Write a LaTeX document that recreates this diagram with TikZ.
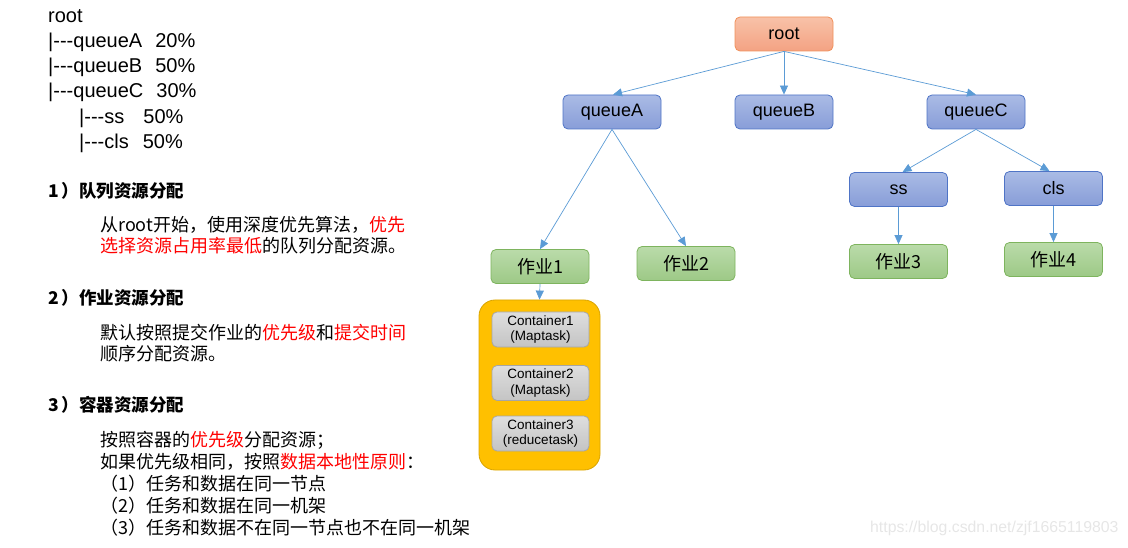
\documentclass[tikz,border=0pt]{standalone}
\usepackage{fontspec}
\setmainfont{Liberation Sans}
\newfontfamily\cjk{Noto Sans CJK SC}
\usetikzlibrary{arrows.meta}
\definecolor{rootTop}{HTML}{F8C2A8}
\definecolor{rootBot}{HTML}{F4A283}
\definecolor{rootBd}{HTML}{F0905A}
\definecolor{qTop}{HTML}{AABBE5}
\definecolor{qBot}{HTML}{889DD8}
\definecolor{qBd}{HTML}{4F74C6}
\definecolor{gTop}{HTML}{BADBAA}
\definecolor{gBot}{HTML}{9DC986}
\definecolor{gBd}{HTML}{7EB45E}
\definecolor{cTop}{HTML}{DEDEDE}
\definecolor{cBot}{HTML}{C4C4C4}
\definecolor{cBd}{HTML}{A6A6A6}
\definecolor{yel}{HTML}{FFC000}
\definecolor{yelBd}{HTML}{D9A400}
\definecolor{arr}{HTML}{5B9BD5}
\definecolor{hl}{HTML}{FF0000}
\definecolor{wm}{HTML}{E6E6E6}
\newcommand\hy{\mbox{-}}
\newcommand\hl[1]{\textcolor{hl}{#1}}
\begin{document}
\begin{tikzpicture}[x=1pt,y=-1pt,
  box/.style={draw, rounded corners=5pt, minimum width=98pt, minimum height=34pt, line width=0.8pt, inner sep=0pt, font=\fontsize{18}{20}\selectfont},
  rootbox/.style={box, top color=rootTop, bottom color=rootBot, draw=rootBd},
  qbox/.style={box, top color=qTop, bottom color=qBot, draw=qBd},
  gbox/.style={box, top color=gTop, bottom color=gBot, draw=gBd, font=\cjk\fontsize{18}{20}\selectfont},
  cbox/.style={draw=cBd, rounded corners=5pt, top color=cTop, bottom color=cBot, minimum width=97pt, minimum height=35pt, line width=0.8pt, inner sep=0pt, align=center, font=\fontsize{13.5}{15.5}\selectfont},
  conn/.style={draw=arr, line width=0.7pt, -{Triangle[length=9pt,width=8pt]}, arr},
  tree/.style={anchor=west, inner sep=0pt, font=\fontsize{20}{22}\selectfont},
  head/.style={anchor=west, inner sep=0pt, font=\cjk\bfseries\fontsize{17.5}{20}\selectfont},
  body/.style={anchor=west, inner sep=0pt, font=\cjk\fontsize{18}{20}\selectfont},
]
\useasboundingbox (0,0) rectangle (1128,548);

% left tree text
\node[tree] (t0) at (48,16) {root};
\node[tree] (t1) at (48,42) {|\hy\hy\hy queueA\hspace{13pt}20\%};
\node[tree] (t2) at (48,67) {|\hy\hy\hy queueB\hspace{13pt}50\%};
\node[tree] (t3) at (48,92) {|\hy\hy\hy queueC\hspace{13pt}30\%};
\node[tree] (t4) at (79,118) {|\hy\hy\hy ss\hspace{19pt}50\%};
\node[tree] (t5) at (79,143) {|\hy\hy\hy cls\hspace{14pt}50\%};

% section 1
\node[head] (h1) at (48,191) {1\hspace{3pt}）队列资源分配};
\node[body] (b11) at (100,225) {从root开始，使用深度优先算法，\hl{优先}};
\node[body] (b12) at (100,246) {\hl{选择资源占用率最低}的队列分配资源。};
% section 2
\node[head] (h2) at (48,298) {2\hspace{3pt}）作业资源分配};
\node[body] (b21) at (100,333) {默认按照提交作业的\hl{优先级}和\hl{提交时间}};
\node[body] (b22) at (100,354) {顺序分配资源。};
% section 3
\node[head] (h3) at (48,405) {3\hspace{3pt}）容器资源分配};
\node[body] (b31) at (100,440) {按照容器的\hl{优先级}分配资源；};
\node[body] (b32) at (100,462) {如果优先级相同，按照\hl{数据本地性原则}：};
\node[body] (b33) at (100,484) {（1）任务和数据在同一节点};
\node[body] (b34) at (100,506) {（2）任务和数据在同一机架};
\node[body] (b35) at (100,528) {（3）任务和数据不在同一节点也不在同一机架};

% tree diagram
\node[rootbox] (root) at (784,34) {root};
\node[qbox] (qA) at (612,112) {queueA};
\node[qbox] (qB) at (784,112) {queueB};
\node[qbox] (qC) at (976,112) {queueC};
\node[qbox] (ss) at (898.5,189.5) {ss};
\node[qbox] (cls) at (1053.5,188.5) {cls};
\node[gbox] (j1) at (540,266.5) {作业1};
\node[gbox] (j2) at (686,263.5) {作业2};
\node[gbox] (j3) at (898.5,261.5) {作业3};
\node[gbox] (j4) at (1053.5,259.5) {作业4};

\node[draw=yelBd, fill=yel, rounded corners=16pt, minimum width=121pt, minimum height=170pt, line width=0.8pt, inner sep=0pt] (cont) at (539.5,385) {};
\node[cbox] (c1) at (540.5,329.5) {Container1\\(Maptask)};
\node[cbox] (c2) at (540.5,383) {Container2\\(Maptask)};
\node[cbox] (c3) at (540.5,433.5) {Container3\\(reducetask)};

\draw[conn] (root.south) -- ([xshift=1pt]qA.north);
\draw[conn] (root.south) -- (qB.north);
\draw[conn] (root.south) -- (qC.north);
\draw[conn] (qA.south) -- (j1.north);
\draw[conn] (qA.south) -- (j2.north);
\draw[conn] (qC.south) -- ([xshift=4pt]ss.north);
\draw[conn] (qC.south) -- ([xshift=-4pt]cls.north);
\draw[conn] (ss.south) -- (j3.north);
\draw[conn] (cls.south) -- (j4.north);
\draw[conn] (j1.south) -- (cont.north);

% watermark
\node[anchor=west, inner sep=0pt, text=wm, font=\fontsize{15.8}{18}\selectfont] (wmk) at (870,528) {https://blog.csdn.net/zjf1665119803};
\end{tikzpicture}
\end{document}
